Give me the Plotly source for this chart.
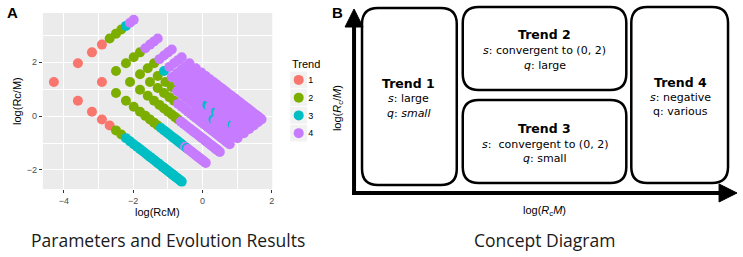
import math
import plotly.graph_objects as go

# ---------------- data ----------------
RC_VALUES = [0.22, 0.44, 0.66, 0.88, 1.10, 1.32, 1.54, 1.76, 1.98, 2.20]
M_VALUES = [0.0625, 0.125, 0.1875, 0.25, 0.3125, 0.375, 0.4375, 0.5, 0.5625, 0.625,
            0.6875, 0.75, 0.8125, 0.875, 0.9375, 1.0, 1.0625, 1.125, 1.1875, 1.25,
            1.3125, 1.375, 1.4375, 1.5, 1.5625, 1.625, 1.6875, 1.75, 1.8125, 1.875,
            1.9375, 2.0, 2.0625, 2.125, 2.1875, 2.25, 2.3125, 2.375, 2.4375, 2.5]
# trend of each (Rc, M) point, one row per Rc value, as (trend, number of M values) runs
TREND_RUNS = [
    [(1, 5), (2, 2), (3, 33)],
    [(1, 2), (2, 8), (3, 11), (4, 1), (3, 1), (4, 17)],
    [(1, 1), (2, 11), (4, 28)],
    [(1, 1), (2, 7), (4, 32)],
    [(2, 6), (4, 13), (3, 1), (4, 20)],
    [(2, 3), (3, 1), (4, 9), (3, 1), (4, 3), (3, 1), (4, 10), (3, 1), (4, 11)],
    [(2, 1), (4, 39)],
    [(3, 1), (4, 39)],
    [(4, 40)],
    [(4, 40)],
]
TREND_LABELS = ["1", "2", "3", "4"]
TREND_COLORS = ["#F8766D", "#7CAE00", "#00BFC4", "#C77CFF"]
X_TICKS = [-4, -2, 0, 2]
Y_TICKS = [-2, 0, 2]

W, H = 743, 257


def px(x):
    return x / W


def py(y):
    return 1 - y / H


xs, ys, cols = [], [], []
for rc, runs in zip(RC_VALUES, TREND_RUNS):
    trends = [t for t, n in runs for _ in range(n)]
    for m, t in zip(M_VALUES, trends):
        xs.append(math.log(rc * m))
        ys.append(math.log(rc / m))
        cols.append(TREND_COLORS[t - 1])

fig = go.Figure()
fig.add_trace(go.Scatter(x=xs, y=ys, mode="markers", xaxis="x", yaxis="y",
                         marker=dict(size=10, color=cols, line=dict(width=0)),
                         showlegend=False, hoverinfo="skip"))
# manual ggplot-like legend
fig.add_trace(go.Scatter(x=[0] * len(TREND_LABELS), y=TREND_LABELS, mode="markers",
                         xaxis="x3", yaxis="y3",
                         marker=dict(size=10, color=TREND_COLORS, line=dict(width=0)),
                         showlegend=False, hoverinfo="skip"))

shapes = []
annotations = []
FONT = "Liberation Sans"

# ggplot panel background
shapes.append(dict(type="rect", xref="x domain", yref="y domain", x0=0, x1=1, y0=0, y1=1,
                   fillcolor="#EBEBEB", line=dict(width=0), layer="below"))
# legend key backgrounds
cat_order = TREND_LABELS[::-1]
for lab in TREND_LABELS:
    i = cat_order.index(lab)
    shapes.append(dict(type="rect", xref="x3 domain", yref="y3", x0=0, x1=1,
                       y0=i - 0.47, y1=i + 0.47, fillcolor="#F2F2F2",
                       line=dict(width=0), layer="below"))


def ann(text, x, y, size=11, family=FONT, color="black", xanchor="center", angle=0):
    return dict(text=text, x=px(x), y=py(y), xref="paper", yref="paper",
                xanchor=xanchor, yanchor="middle", textangle=angle, showarrow=False,
                font=dict(family=family, size=size, color=color))


annotations += [
    ann("<b>A</b>", 5, 12, size=15, xanchor="left"),
    ann("log(Rc/M)", 17, 101, angle=-90),
    ann("log(RcM)", 158, 212),
    ann("Trend", 291, 64, xanchor="left"),
    ann("Parameters and Evolution Results", 168, 240, size=17.5, family="Open Sans", color="#1a1a1a"),
    ann("Concept Diagram", 546, 240, size=17.5, family="Open Sans", color="#1a1a1a"),
    ann("<b>B</b>", 331, 12, size=15, xanchor="left"),
    ann("log(<i>R</i><sub>c</sub>/<i>M</i>)", 339, 108, angle=-90),
    ann("log(<i>R</i><sub>c</sub><i>M</i>)", 546, 211),
]


# ---------------- concept diagram ----------------
def rrect(x0, y0, x1, y1, r):
    pts = [("M", [(x0 + r, y0)]), ("L", [(x1 - r, y0)]), ("Q", [(x1, y0), (x1, y0 + r)]),
           ("L", [(x1, y1 - r)]), ("Q", [(x1, y1), (x1 - r, y1)]), ("L", [(x0 + r, y1)]),
           ("Q", [(x0, y1), (x0, y1 - r)]), ("L", [(x0, y0 + r)]),
           ("Q", [(x0, y0), (x0 + r, y0)])]
    s = ""
    for cmd, ps in pts:
        s += cmd + " " + " ".join(f"{px(a):.5f},{py(b):.5f}" for a, b in ps) + " "
    return s + "Z"


BOXES = [(363, 8, 458, 185), (464, 7, 628, 90), (464, 100, 628, 183), (633, 7, 730, 183)]
for b in BOXES:
    shapes.append(dict(type="path", xref="paper", yref="paper", path=rrect(*b, 16),
                       line=dict(color="black", width=2.5), fillcolor="white"))

# axes arrows
shapes.append(dict(type="line", xref="paper", yref="paper", x0=px(355), x1=px(355),
                   y0=py(195), y1=py(24), line=dict(color="black", width=4)))
shapes.append(dict(type="line", xref="paper", yref="paper", x0=px(353), x1=px(724),
                   y0=py(193), y1=py(193), line=dict(color="black", width=4)))


def tri(p):
    return "M " + " L ".join(f"{px(a):.5f},{py(b):.5f}" for a, b in p) + " Z"


shapes.append(dict(type="path", xref="paper", yref="paper", path=tri([(355, 9), (346, 27), (364, 27)]),
                   fillcolor="black", line=dict(color="black", width=1)))
shapes.append(dict(type="path", xref="paper", yref="paper", path=tri([(739, 193), (721, 184), (721, 202)]),
                   fillcolor="black", line=dict(color="black", width=1)))

BOX_TEXT = [
    (410, [("<b>Trend 1</b>", 84), ("<i>s</i>: large", 99), ("<i>q</i>: <i>small</i>", 113)]),
    (546, [("<b>Trend 2</b>", 35), ("<i>s</i>: convergent to (0, 2)", 51), ("<i>q</i>: large", 65)]),
    (546, [("<b>Trend 3</b>", 128), ("<i>s</i>:\u00a0 convergent to (0, 2)", 144), ("<i>q</i>: small", 158)]),
    (682, [("<b>Trend 4</b>", 82), ("<i>s</i>: negative", 97), ("q: various", 111)]),
]
for cx, lines in BOX_TEXT:
    for t, y in lines:
        sz = 12.5 if t.startswith("<b>") else 11
        annotations.append(ann(t, cx, y, size=sz, family="DejaVu Sans"))

axis_common = dict(showline=False, zeroline=False, ticks="outside", ticklen=3, tickwidth=1,
                   tickcolor="#333333", tickfont=dict(family=FONT, size=9, color="#4D4D4D"),
                   showgrid=True, gridcolor="white", gridwidth=1.1,
                   minor=dict(dtick=1, showgrid=True, gridcolor="white", gridwidth=0.5, ticks=""))

fig.update_layout(
    width=W, height=H, margin=dict(l=0, r=0, t=0, b=0),
    paper_bgcolor="white", plot_bgcolor="rgba(0,0,0,0)",
    showlegend=False,
    xaxis=dict(domain=[px(43), px(273)], range=[-4.604, 2.014], tickvals=X_TICKS,
               anchor="y", **axis_common),
    yaxis=dict(domain=[py(189), py(13)], range=[-2.704, 3.815], tickvals=Y_TICKS,
               anchor="x", **axis_common),
    xaxis3=dict(domain=[px(291), px(308)], range=[-1, 1], visible=False, anchor="y3"),
    yaxis3=dict(domain=[py(142), py(71)], type="category", categoryorder="array",
                categoryarray=cat_order, range=[-0.5, 3.5], side="right", anchor="x3",
                showgrid=False, zeroline=False, showline=False, ticks="",
                tickfont=dict(family=FONT, size=9, color="black")),
    shapes=shapes, annotations=annotations,
)

fig.write_html("out.html", config={"displayModeBar": False},
               post_script="document.body.style.margin='0px';")
